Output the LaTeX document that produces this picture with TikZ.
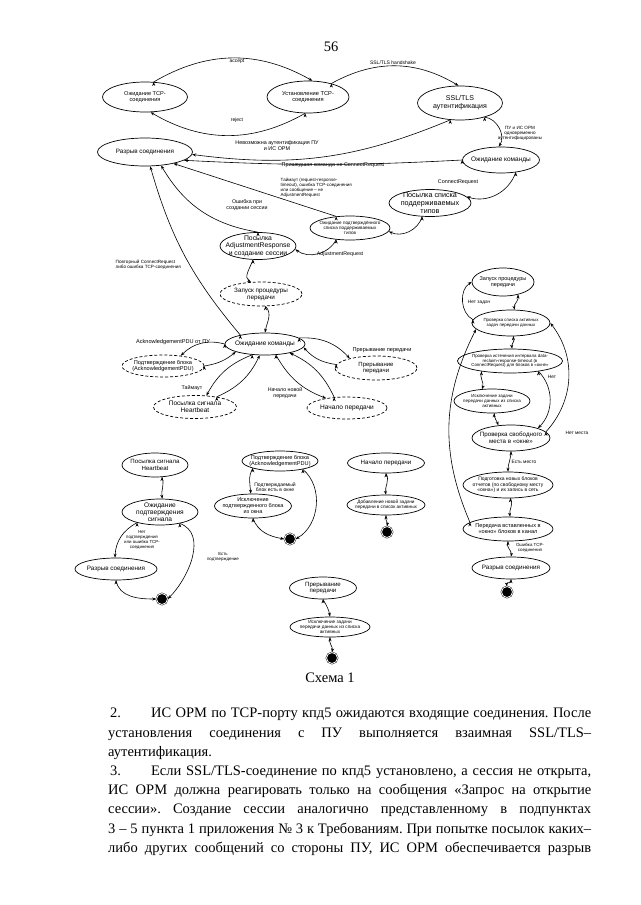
\documentclass[tikz,border=0pt]{standalone}
\usepackage{fontspec}
\setmainfont{Liberation Serif}
\setsansfont{Liberation Sans}
\usetikzlibrary{shapes.geometric,arrows.meta}
\frenchspacing
\newcommand{\fs}[1]{\sffamily\fontsize{#1pt}{1.1\dimexpr#1pt\relax}\selectfont}
\newcommand{\bodyfont}{\rmfamily\fontsize{14.5pt}{19pt}\selectfont}
\newcommand{\jline}[1]{\makebox[483pt][s]{#1}}
\newcommand{\iline}[1]{\makebox[481pt][s]{#1}}

\begin{document}
\begin{tikzpicture} [
                x=1pt, y=1pt,
                state/.style={ellipse,draw,line width=0.7pt,align=center,inner xsep=-15pt,inner ysep=-8pt},
                dashed state/.style={state,dash pattern=on 3pt off 2pt},
                final/.style={circle,draw,fill=black,double,double distance=0.8pt,minimum size=11pt,inner sep=0pt},
                arrow edge/.style = {draw,line width=0.6pt,-{Stealth[length=4pt,width=3pt]}},
                lbl/.style={font=\fs{5},align=center,inner sep=0.5pt},
                body/.style={anchor=base west,inner sep=0pt,font=\bodyfont},
            ]
            \useasboundingbox (0,0) rectangle (640,-905);
            \node[font=\rmfamily\fontsize{14.5pt}{17pt}\selectfont] (pagenum) at (331,-47) {56};

            % upper part: connection and session
            \node[state, minimum width=85, minimum height=30, font=\fs{5.6}] (wait) at (145,-97) {Ожидание TCP-\\соединения};
            \node[state, minimum width=82, minimum height=32, font=\fs{5.7}] (estab) at (308,-97) {Установление TCP-\\соединения};
            \node[state, minimum width=85, minimum height=34, font=\fs{7}] (ssl) at (460,-103) {SSL/TLS\\аутентификация};
            \node[state, minimum width=95, minimum height=28, font=\fs{6.3}] (disc) at (145,-152) {Разрыв соединения};
            \node[state, minimum width=77, minimum height=26, font=\fs{6.5}] (waitcmd) at (501,-160) {Ожидание команды};
            \node[state, minimum width=82, minimum height=27, font=\fs{7.2}] (sendtypes) at (430,-203) {Посылка списка\\поддерживаемых\\типов};
            \node[state, minimum width=80, minimum height=24, font=\fs{4.6}] (waitconf) at (350,-228) {Ожидание подтверждённого\\списка поддерживаемых\\типов};
            \node[state, minimum width=76, minimum height=27, font=\fs{6.8}] (adjresp) at (258,-246) {Посылка\\AdjustmentResponse\\и создание сессии};

            % waiting for commands in a session
            \node[dashed state, minimum width=82, minimum height=24, font=\fs{6.3}] (start) at (261,-294) {Запуск процедуры\\передачи};
            \node[state, minimum width=80, minimum height=22, font=\fs{6.5}] (waitcmd2) at (265,-344) {Ожидание команды};
            \node[dashed state, minimum width=82, minimum height=22, font=\fs{5.6}] (ackblk) at (163,-366) {Подтверждение блока\\(AcknowledgementPDU)};
            \node[dashed state, minimum width=82, minimum height=24, font=\fs{6}] (abort) at (376,-368) {Прерывание\\передачи};
            \node[dashed state, minimum width=83, minimum height=23, font=\fs{6.5}] (hb) at (195,-407) {Посылка сигнала\\Heartbeat};
            \node[dashed state, minimum width=80, minimum height=22, font=\fs{6.6}] (newtx) at (347,-408) {Начало передачи};

            % transfer procedure
            \node[state, minimum width=62, minimum height=28, font=\fs{5.5}] (rstart) at (503,-282) {Запуск процедуры\\передачи};
            \node[state, minimum width=78, minimum height=26, font=\fs{4.4}] (chklist) at (511,-323) {Проверка списка активных\\задач передачи данных};
            \node[state, minimum width=105, minimum height=24, font=\fs{4.4}] (chkint) at (510,-361) {Проверка истечения интервала data-\\reclaim-response-timeout (в\\ConnectRequest) для блоков в «окне»};
            \node[state, minimum width=76, minimum height=24, font=\fs{4.5}] (excl) at (492,-401) {Исключение задачи\\передачи данных из списка\\активных};
            \node[state, minimum width=78, minimum height=26, font=\fs{6.2}] (chkspace) at (511,-438) {Проверка свободного\\места в «окне»};
            \node[state, minimum width=90, minimum height=26, font=\fs{5}] (prep) at (508,-485) {Подготовка новых блоков\\отчетов (по свободному месту\\«окна») и их запись в сеть};
            \node[state, minimum width=90, minimum height=24, font=\fs{5.6}] (transmit) at (508,-529) {Передача вставленных в\\«окно» блоков в канал};
            \node[state, minimum width=78, minimum height=22, font=\fs{6.3}] (rdisc) at (511,-568) {Разрыв соединения};
            \node[final] (rend) at (507,-592) {};

            % heartbeat
            \node[state, minimum width=66, minimum height=24, font=\fs{6.1}] (hb2) at (155,-465) {Посылка сигнала\\Heartbeat};
            \node[state, minimum width=76, minimum height=26, font=\fs{6.6}] (waitack) at (160,-512) {Ожидание\\подтверждения\\сигнала};
            \node[state, minimum width=82, minimum height=22, font=\fs{6.3}] (disc2) at (116,-569) {Разрыв соединения};
            \node[final] (end2) at (162,-599) {};

            % block acknowledgement
            \node[state, minimum width=76, minimum height=20, font=\fs{5.6}] (ackblk2) at (280,-461) {Подтверждение блока\\(AcknowledgementPDU)};
            \node[state, minimum width=77, minimum height=24, font=\fs{5.5}] (excl2) at (253,-506) {Исключение\\подтвержденного блока\\из окна};
            \node[final] (end3) at (290,-539) {};

            % new transfer
            \node[state, minimum width=77, minimum height=20, font=\fs{6.2}] (newtx2) at (386,-463) {Начало передачи};
            \node[state, minimum width=78, minimum height=20, font=\fs{4.7}] (addtask) at (386,-505) {Добавление новой задачи\\передачи в список активных};
            \node[final] (end4) at (387,-532) {};

            % abort transfer
            \node[state, minimum width=67, minimum height=22, font=\fs{6.1}] (abort2) at (323,-588) {Прерывание\\передачи};
            \node[state, minimum width=80, minimum height=20, font=\fs{4.7}] (exclabort) at (330,-627) {Исключение задачи\\передачи данных из списка\\активных};
            \node[final] (end5) at (332,-658) {};

            \foreach \source/\dest/\b in {
                    wait.60/estab.75/30, estab.-100/wait.-70/30, estab.30/ssl.95/30,
                    ssl.-30/waitcmd.100/60, ssl.-120/disc.-3/15, waitcmd.180/disc.-12/3,
                    waitcmd.-40/sendtypes.10/45, sendtypes.-120/waitconf.-5/50,
                    waitconf.140/disc.-22/0, waitconf.-140/adjresp.-5/50,
                    adjresp.90/disc.-40/25, waitcmd2.160/disc.-70/12,
                    waitcmd2.180/ackblk.30/-30, ackblk.0/waitcmd2.-165/-15,
                    waitcmd2.-140/hb.45/-20, hb.25/waitcmd2.-115/-20,
                    waitcmd2.-45/newtx.155/-20, newtx.140/waitcmd2.-20/-20,
                    waitcmd2.10/abort.160/25, abort.175/waitcmd2.-5/20,
                    chklist.175/rstart.180/60, chkint.-20/chkspace.20/45,
                    chkspace.10/chklist.0/-40, transmit.170/chklist.-170/25,
                    waitack.-155/disc2.95/-30}
                \path[arrow edge] (\source) edge [bend left=\b] (\dest);
            \foreach \source/\dest/\o/\i in {
                    adjresp.-110/start.130/-110/150, start.-70/waitcmd2.90/-45/80,
                    rstart.-40/chklist.75/-70/100, chklist.-80/chkint.80/-60/100,
                    chkint.-160/excl.130/-110/70, excl.-80/chkspace.135/-90/110,
                    chkspace.-90/prep.90/-90/90, prep.-80/transmit.80/-60/100,
                    transmit.-90/rdisc.90/-120/80, rdisc.-90/rend.90/-60/100,
                    hb2.-60/waitack.80/-70/100, waitack.-30/end2.0/-20/45,
                    disc2.-90/end2.180/-80/180, ackblk2.-165/excl2.100/-120/95,
                    ackblk2.-20/end3.0/-40/30, excl2.-90/end3.180/-70/170,
                    newtx2.-90/addtask.90/-60/100, addtask.-90/end4.90/-110/80,
                    abort2.-90/exclabort.90/-60/100, exclabort.-90/end5.90/-110/80}
                \path[arrow edge] (\source) edge [out=\o,in=\i] (\dest);

            % transition labels
            \node[lbl] (laccept) at (237,-61) {accept};
            \node[lbl] (lreject) at (237,-120) {reject};
            \node[lbl] (lhandshake) at (393,-63) {SSL/TLS handshake};
            \node[lbl, font=\fs{4.6}] (lauth) at (520,-133) {ПУ и ИС ОРМ\\одновременно\\аутентифицированы};
            \node[lbl, font=\fs{5.4}] (lnoauth) at (277,-146) {Невозможна аутентификация ПУ\\и ИС ОРМ};
            \node[lbl, font=\fs{5.4}] (lwrong) at (333,-165) {Пришедшая команда не ConnectRequest};
            \node[lbl, font=\fs{5.4}] (lconnect) at (458,-182) {ConnectRequest};
            \node[lbl, font=\fs{4.5}, align=left, anchor=west] (ltimeout) at (280,-188) {Таймаут (request-response-\\timeout), ошибка TCP-соединения\\или сообщение – не\\AdjustmentRequest};
            \node[lbl, font=\fs{5.3}] (lsesserr) at (247,-205) {Ошибка при\\создании сессии};
            \node[lbl, font=\fs{5.3}] (ladjreq) at (340,-254) {AdjustmentRequest};
            \node[lbl, font=\fs{4.6}, align=left, anchor=west] (lrepeat) at (115,-265) {Повторный ConnectRequest\\либо ошибка TCP-соединения};
            \node[lbl, font=\fs{5.6}] (lackpdu) at (173,-342) {AcknowledgementPDU от ПУ};
            \node[lbl, font=\fs{5.6}] (labort) at (382,-350) {Прерывание передачи};
            \node[lbl, font=\fs{5.3}] (lhbtime) at (192,-388) {Таймаут};
            \node[lbl, font=\fs{5.3}] (lnewtx) at (285,-393) {Начало новой\\передачи};
            \node[lbl, font=\fs{4.8}] (lnotask) at (479,-302) {Нет задач};
            \node[lbl, font=\fs{4.8}] (lno) at (552,-377) {Нет};
            \node[lbl, font=\fs{4.8}] (lnospace) at (577,-433) {Нет места};
            \node[lbl, font=\fs{4.8}] (lspace) at (524,-462) {Есть место};
            \node[lbl, font=\fs{4.4}] (ltcperr) at (530,-548) {Ошибка TCP-\\соединения};
            \node[lbl, font=\fs{4.4}] (lnoconf) at (142,-540) {Нет\\подтверждения\\или ошибка TCP-\\соединения};
            \node[lbl, font=\fs{4.4}] (lconf) at (223,-557) {Есть\\подтверждение};
            \node[lbl, font=\fs{5}] (linwin) at (275,-487) {Подтверждаемый\\блок есть в окне};

            \node[font=\rmfamily\fontsize{14.5pt}{17pt}\selectfont] (caption) at (330,-678) {Схема 1};

            % text of the page
            \node[body] (p1) at (110,-717) {\iline{2.\hspace*{30pt}ИС ОРМ по TCP-порту кпд5 ожидаются входящие соединения. После}};
            \node[body] (p2) at (108,-737) {\jline{установления соединения с ПУ выполняется взаимная SSL/TLS–}};
            \node[body] (p3) at (108,-756) {аутентификация.};
            \node[body] (p4) at (110,-775) {\iline{3.\hspace*{30pt}Если SSL/TLS-соединение по кпд5 установлено, а сессия не открыта,}};
            \node[body] (p5) at (108,-794) {\jline{ИС ОРМ должна реагировать только на сообщения «Запрос на открытие}};
            \node[body] (p6) at (108,-813) {\jline{сессии». Создание сессии аналогично представленному в подпунктах}};
            \node[body] (p7) at (108,-833) {\jline{3 – 5 пункта 1 приложения № 3 к Требованиям. При попытке посылок каких–}};
            \node[body] (p8) at (108,-852) {\jline{либо других сообщений со стороны ПУ, ИС ОРМ обеспечивается разрыв}};
        \end{tikzpicture}
\end{document}
